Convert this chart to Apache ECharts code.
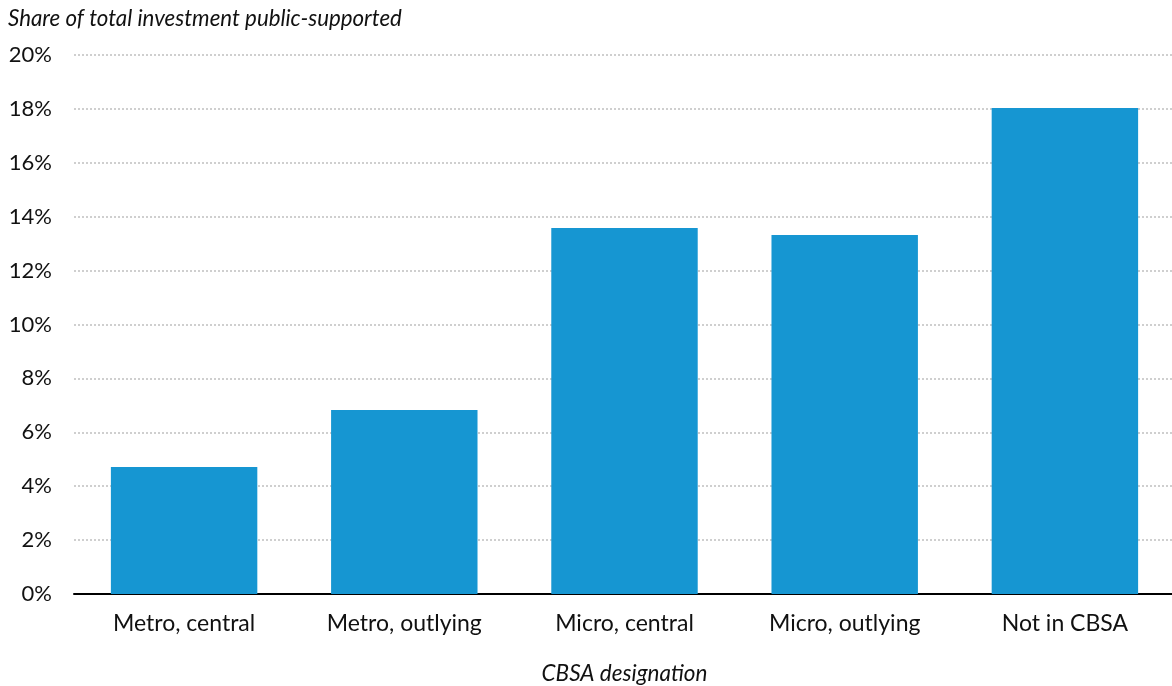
<!DOCTYPE html>
<html>
<head>
<meta charset="utf-8">
<script src="https://cdn.jsdelivr.net/npm/echarts@6/dist/echarts.min.js"></script>
<style>
  html, body { margin: 0; padding: 0; background: #fff; }
  #chart { width: 1172px; height: 686px; }
</style>
</head>
<body>
<div id="chart"></div>
<script>
// CBSA designation categories and share of investment public-supported (%)
const categories = ["Metro, central", "Metro, outlying", "Micro, central", "Micro, outlying", "Not in CBSA"];
const shareValues = [4.71, 6.83, 13.58, 13.32, 18.03];
const yTicks = { min: 0, max: 20, interval: 2 };

const chart = echarts.init(document.getElementById("chart"));

const option = {
  animation: false,
  textStyle: { fontFamily: "Lato" },
  title: {
    text: "Share of total investment public-supported",
    left: 3,
    top: 3,
    textStyle: {
      fontFamily: "Lato",
      fontStyle: "italic",
      fontWeight: "normal",
      fontSize: 22.3,
      color: "#111",
    },
  },
  grid: {
    left: 74,
    right: -3,
    top: 55,
    bottom: 92,
    outerBoundsMode: "none",
  },
  xAxis: {
    type: "category",
    data: categories,
    name: "CBSA designation",
    nameLocation: "middle",
    nameGap: 68,
    nameTextStyle: {
      fontFamily: "Lato",
      fontStyle: "italic",
      fontSize: 22.5,
      color: "#111",
    },
    axisLine: { lineStyle: { color: "#000", width: 2 } },
    axisTick: { show: false },
    axisLabel: {
      fontFamily: "Lato",
      fontSize: 23,
      color: "#111",
      margin: 18,
    },
  },
  yAxis: {
    type: "value",
    min: yTicks.min,
    max: yTicks.max,
    interval: yTicks.interval,
    axisLine: { show: false },
    axisTick: { show: false },
    axisLabel: {
      formatter: "{value}%",
      fontFamily: "Lato",
      fontSize: 22,
      color: "#111",
      margin: 22,
    },
    splitLine: {
      show: true,
      lineStyle: { color: "#cfcfcf", width: 2, type: [2, 2] },
    },
  },
  series: [
    {
      type: "bar",
      data: shareValues,
      barCategoryGap: "33.5%",
      itemStyle: { color: "#1696d2" },
    },
  ],
};

chart.setOption(option);
</script>
</body>
</html>
